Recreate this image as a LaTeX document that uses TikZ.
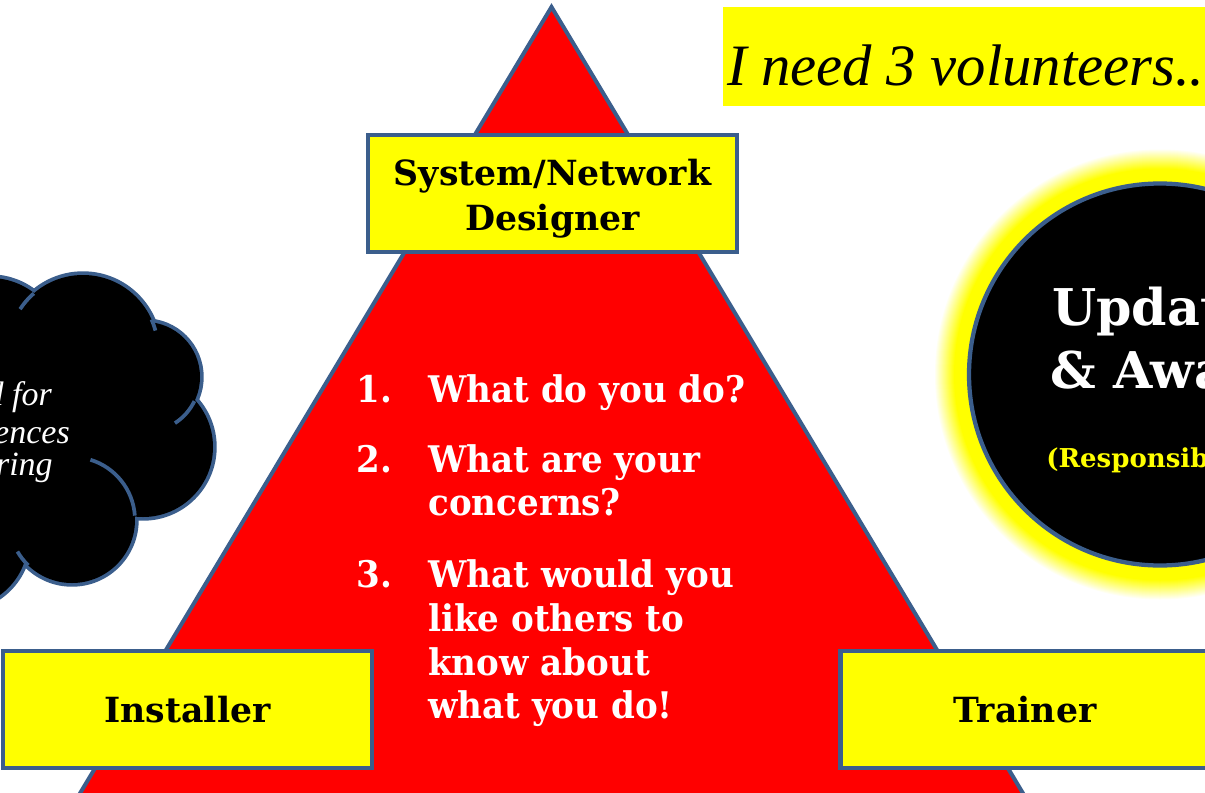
\documentclass[tikz,border=0pt]{standalone}
\usepackage{fontspec}
\setmainfont{DejaVu Serif}
\newfontfamily\itfont{Liberation Serif}
\newfontfamily\qfont[FakeStretch=0.93]{DejaVu Serif}
\definecolor{edgeblue}{HTML}{3B5E8C}
\definecolor{yel}{HTML}{FFFF00}
\definecolor{rd}{HTML}{FF0000}
\tikzset{
  rolebox/.style={draw=edgeblue, fill=yel, line width=3.2pt, inner sep=0pt, align=center,
     minimum width=369*0.75pt, minimum height=117*0.75pt,
     font=\fontsize{26}{34}\selectfont\bfseries, text=black},
  roletext/.style={inner sep=0pt, align=center, font=\fontsize{26}{34}\selectfont\bfseries, text=black},
  qtext/.style={anchor=base west, inner sep=0pt, text=white, font=\fontsize{27.5}{33}\selectfont\qfont\bfseries},
  cloudtext/.style={anchor=base east, inner sep=0pt, text=white, font=\fontsize{25.5}{30}\selectfont\itfont\itshape},
  cloudline/.style={draw=edgeblue, line width=5.6pt},
  cloudstub/.style={draw=edgeblue, line width=2.8pt},
}
\begin{document}
\begin{tikzpicture}[x=0.75pt,y=-0.75pt]
\useasboundingbox (0,0) rectangle (1205,792);
% ---------- cloud (left, partly outside) ----------
\foreach \cx/\cy/\r in {-10/350/72, 83/350/75, 145/377/55, 143/447/70, 72/520/63, -40/540/68}
  \draw[cloudline] (\cx,\cy) circle (\r);
\foreach \cx/\cy/\r in {-10/350/72, 83/350/75, 145/377/55, 143/447/70, 72/520/63, -40/540/68, 60/420/110}
  \fill[black] (\cx,\cy) circle (\r);
\draw[cloudstub] ([shift={(83,350)}]229:75) arc (229:213:75);
\draw[cloudstub] ([shift={(83,350)}]-24:75) arc (-24:-15:75);
\draw[cloudstub] ([shift={(145,377)}]26:55) arc (26:57:55);
\draw[cloudstub] ([shift={(72,520)}]-4:63) arc (-4:-73:63);
\draw[cloudstub] ([shift={(72,520)}]134:63) arc (134:150:63);
\node[cloudtext] (c1) at (52,405) {d for};
\node[cloudtext] (c2) at (70,443) {ences};
\node[cloudtext] (c3) at (53,475) {ring};
% ---------- glowing circle (right) ----------
\foreach \i in {0,...,34}{
  \pgfmathtruncatemacro\pp{min(100,\i*100/20)}
  \fill[yel!\pp!white] (1160,374.5) circle ({226-\i});
}
\node[circle, draw=edgeblue, fill=black, line width=3.2pt, minimum size=382*0.75pt, inner sep=0pt] (upd) at (1160,374.5) {};
\node[anchor=base west, inner sep=0pt, text=white, font=\fontsize{38}{44}\selectfont\bfseries] (u1) at (1052,325) {Updat};
\node[anchor=base west, inner sep=0pt, text=white, font=\fontsize{38}{44}\selectfont\bfseries] (u2) at (1050,388) {\& Awa};
\node[anchor=base west, inner sep=0pt, text=yel, font=\fontsize{19.5}{24}\selectfont\bfseries] (u3) at (1046,467) {(Responsib};
% ---------- banner ----------
\node[fill=yel, minimum width=487*0.75pt, minimum height=99*0.75pt, inner sep=0pt, anchor=north west] (banner) at (723,7) {};
\node[anchor=base west, inner sep=0pt, font=\fontsize{44}{50}\selectfont\itfont\itshape] (bt) at (727,85) {I need 3 volunteers..};
% ---------- triangle ----------
\coordinate (apex) at (551.5,7);
\coordinate (bl) at (76,800);
\coordinate (br) at (1027,800);
\draw[fill=rd, draw=edgeblue, line width=3pt] (apex) -- (bl) -- (br) -- cycle;
% ---------- role boxes ----------
\node[rolebox] (designer) at (552.5,193.5) {};
\node[roletext] (designertext) at (552.5,199) {System/Network\\Designer};
\node[rolebox] (installer) at (187.5,709.5) {Installer};
\node[rolebox] (trainer) at (1025,709.5) {Trainer};
% ---------- questions ----------
\node[qtext] (n1) at (356,402) {1.};
\node[qtext] (q1) at (428,402) {What do you do?};
\node[qtext] (n2) at (356,472) {2.};
\node[qtext] (q2a) at (428,472) {What are your};
\node[qtext] (q2b) at (428,515) {concerns?};
\node[qtext] (n3) at (356,587) {3.};
\node[qtext] (q3a) at (428,587) {What would you};
\node[qtext] (q3b) at (428,631) {like others to};
\node[qtext] (q3c) at (428,675) {know about};
\node[qtext] (q3d) at (428,718) {what you do!};
\end{tikzpicture}
\end{document}
